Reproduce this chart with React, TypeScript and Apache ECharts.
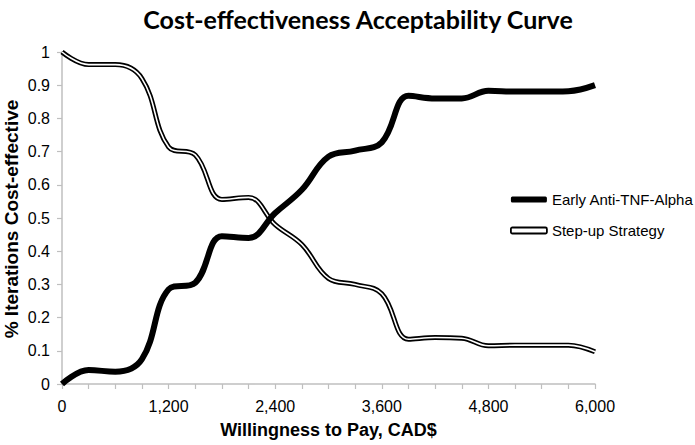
import React, { useEffect, useRef } from "react";
import * as echarts from "echarts";

const wtp = [0, 300, 600, 900, 1200, 1500, 1800, 2100, 2400, 2700, 3000, 3300, 3600, 3900, 4200, 4500, 4800, 5100, 5400, 5700, 6000];
const earlyAntiTNF = [0, 0.042, 0.037, 0.075, 0.285, 0.305, 0.445, 0.44, 0.515, 0.585, 0.685, 0.703, 0.728, 0.868, 0.86, 0.86, 0.883, 0.881, 0.881, 0.882, 0.9];
const stepUp = [1.0, 0.962, 0.962, 0.92, 0.714, 0.69, 0.556, 0.562, 0.48, 0.42, 0.318, 0.3, 0.272, 0.135, 0.14, 0.138, 0.115, 0.117, 0.117, 0.117, 0.097];
const seriesNames = ["Early Anti-TNF-Alpha", "Step-up Strategy"];
const titleText = "Cost-effectiveness Acceptability Curve";
const xTitle = "Willingness to Pay, CAD$";
const yTitle = "% Iterations Cost-effective";

export default function App() {
  const ref = useRef<HTMLDivElement>(null);
  useEffect(() => {
    if (!ref.current) return;
    const chart = echarts.init(ref.current, null, { renderer: "svg" });
    const pair = (ys: number[]) => wtp.map((x, i) => [x, ys[i]]);
    const axisColor = "#bfbfbf";
    const labelFont = "'Liberation Sans', Arial, sans-serif";
    chart.setOption({
      animation: false,
      backgroundColor: "#ffffff",
      title: {
        text: titleText,
        left: 353,
        textAlign: "center",
        top: 1,
        textStyle: { fontFamily: "Lato, sans-serif", fontWeight: "bold", fontSize: 25, color: "#000" },
      },
      grid: { left: 62, right: 100, top: 52, bottom: 61, containLabel: false, outerBoundsMode: "none" },
      graphic: [
        {
          type: "text",
          x: 11,
          y: 219,
          rotation: Math.PI / 2,
          style: {
            text: yTitle,
            fontFamily: labelFont,
            fontWeight: "bold",
            fontSize: 19,
            fill: "#000",
            textAlign: "center",
            textVerticalAlign: "middle",
          },
        },
      ],
      legend: {
        orient: "vertical",
        left: 505,
        top: 187,
        itemWidth: 36,
        itemHeight: 6,
        itemGap: 16,
        textStyle: { fontFamily: labelFont, fontSize: 15, color: "#000" },
        data: [
          { name: seriesNames[0], icon: "roundRect", itemStyle: { color: "#000", borderWidth: 0 } },
          { name: seriesNames[1], icon: "roundRect", itemStyle: { color: "#fff", borderColor: "#000", borderWidth: 1.8 } },
        ],
      },
      xAxis: {
        type: "value",
        min: 0,
        max: 6000,
        interval: 300,
        name: xTitle,
        nameLocation: "middle",
        nameGap: 37,
        nameTextStyle: { fontFamily: labelFont, fontWeight: "bold", fontSize: 18, color: "#000" },
        axisLine: { lineStyle: { color: axisColor, width: 1.5 } },
        axisTick: { show: true, length: 5, lineStyle: { color: axisColor, width: 1.2 } },
        splitLine: { show: false },
        axisLabel: {
          margin: 14,
          fontFamily: labelFont,
          fontSize: 16,
          color: "#000",
          formatter: (v: number) => (v % 1200 === 0 ? v.toLocaleString("en-US") : ""),
        },
      },
      yAxis: {
        type: "value",
        min: 0,
        max: 1,
        interval: 0.1,
        axisLine: { show: true, lineStyle: { color: axisColor, width: 1.5 } },
        axisTick: { show: true, length: 5, lineStyle: { color: axisColor, width: 1.2 } },
        splitLine: { show: false },
        axisLabel: {
          margin: 12,
          fontFamily: labelFont,
          fontSize: 16,
          color: "#000",
          formatter: (v: number) => String(Number(v.toFixed(1))),
        },
      },
      series: [
        {
          name: seriesNames[1],
          type: "line",
          smooth: 0.4,
          symbol: "none",
          data: pair(stepUp),
          lineStyle: { color: "#000", width: 5 },
          itemStyle: { color: "#000" },
          z: 2,
        },
        {
          name: seriesNames[1],
          type: "line",
          smooth: 0.4,
          symbol: "none",
          data: pair(stepUp),
          lineStyle: { color: "#fff", width: 1.6 },
          itemStyle: { color: "#fff" },
          z: 3,
        },
        {
          name: seriesNames[0],
          type: "line",
          smooth: 0.4,
          symbol: "none",
          data: pair(earlyAntiTNF),
          lineStyle: { color: "#000", width: 6 },
          itemStyle: { color: "#000" },
          z: 4,
        },
      ],
    });
    return () => chart.dispose();
  }, []);
  return <div ref={ref} style={{ width: 695, height: 445, position: "fixed", left: 0, top: 0 }} />;
}
